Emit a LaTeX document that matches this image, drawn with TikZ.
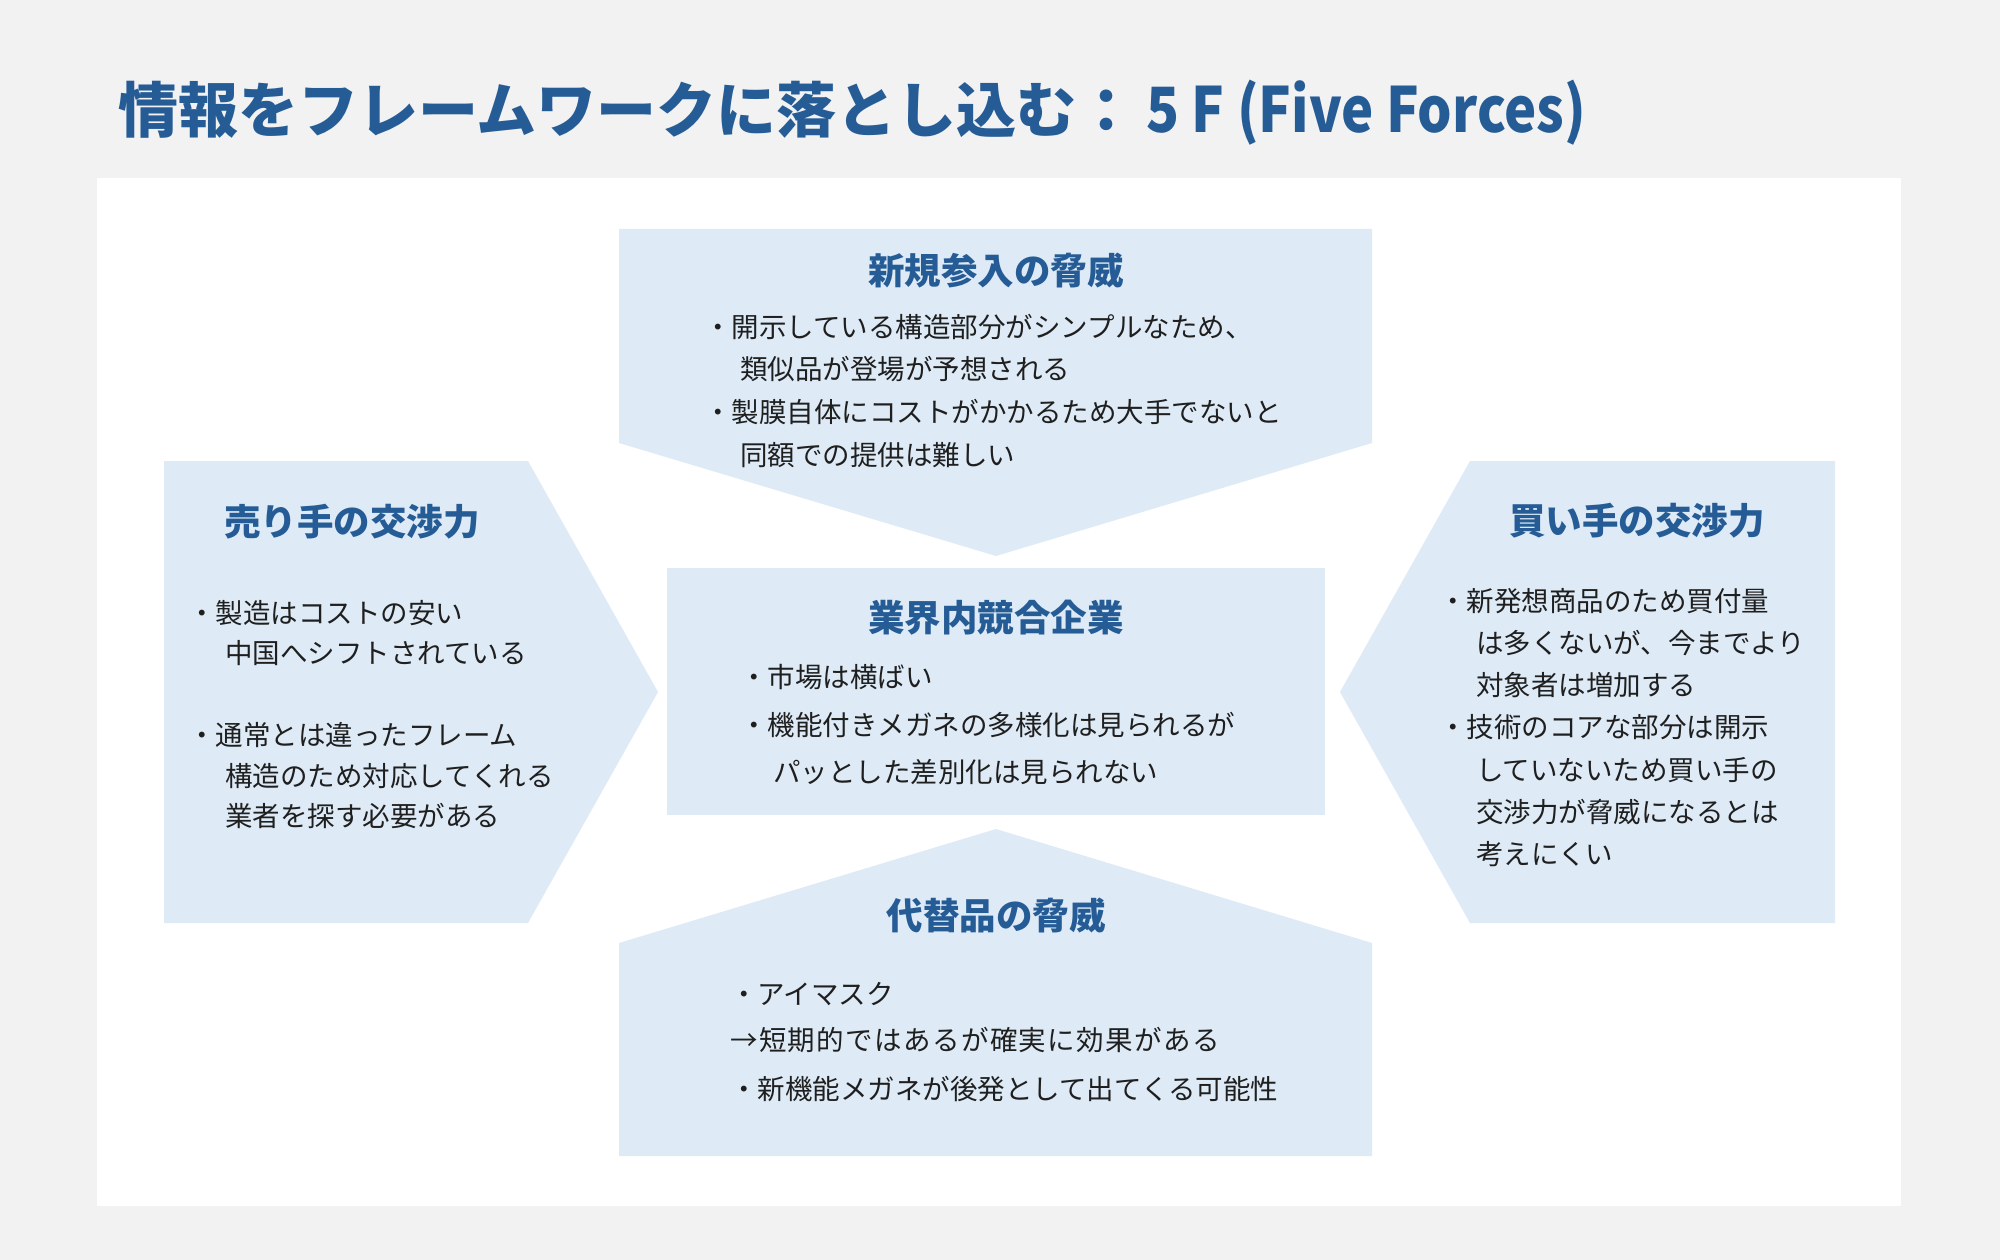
\documentclass[tikz,border=0pt]{standalone}
\usepackage{graphicx}
\usepackage{fontspec}
\setmainfont{Noto Sans CJK JP}
\definecolor{bggray}{HTML}{F2F2F2}
\definecolor{boxblue}{HTML}{DEEBF7}
\definecolor{headblue}{HTML}{265C96}
\definecolor{bodytext}{HTML}{1F1F1F}
\tikzset{
  panel/.style={fill=white, draw=none},
  forcebox/.style={fill=boxblue, draw=none},
  heading/.style={anchor=base, inner sep=0pt, text=headblue, font=\fontsize{36.5}{44}\selectfont\bfseries},
  bodyline/.style={anchor=base west, inner sep=0pt, text=bodytext, font=\fontsize{27.5}{32}\selectfont},
  titletext/.style={anchor=base west, inner sep=0pt, text=headblue, font=\fontsize{60}{70}\selectfont\bfseries}
}
\begin{document}
\begin{tikzpicture}[x=1pt, y=-1pt]
\useasboundingbox (0,0) rectangle (2000,1260);
\fill[bggray] (0,0) rectangle (2000,1260);
% title
\node[titletext] (title) at (118,133) {情報をフレームワークに落とし込む：\,\scalebox{0.905}[1.04]{5 F (Five Forces)}};
% white panel
\fill[panel] (97,178) rectangle (1901,1206);
% shapes
\fill[forcebox] (619,229) -- (1372,229) -- (1372,443) -- (996,556) -- (619,443) -- cycle;
\fill[forcebox] (667,568) rectangle (1325,815);
\fill[forcebox] (619,943) -- (996,829) -- (1372,943) -- (1372,1156) -- (619,1156) -- cycle;
\fill[forcebox] (164,461) -- (528,461) -- (658,692) -- (528,923) -- (164,923) -- cycle;
\fill[forcebox] (1470,461) -- (1835,461) -- (1835,923) -- (1470,923) -- (1340,692) -- cycle;
% headings
\node[heading] (hTop) at (996,284) {新規参入の脅威};
\node[heading] (hLeft) at (352,535) {売り手の交渉力};
\node[heading] (hCenter) at (996,631) {業界内競合企業};
\node[heading] (hRight) at (1637,534) {買い手の交渉力};
\node[heading] (hBottom) at (996,929) {代替品の脅威};
% top box text
\node[bodyline] (t1) at (704,337) {・開示している構造部分がシンプルなため、};
\node[bodyline] (t2) at (740,379) {類似品が登場が予想される};
\node[bodyline] (t3) at (704,422) {・製膜自体にコストがかかるため大手でないと};
\node[bodyline] (t4) at (740,465) {同額での提供は難しい};
% left box text
\node[bodyline] (l1) at (188,623) {・製造はコストの安い};
\node[bodyline] (l2) at (225,663) {中国へシフトされている};
\node[bodyline] (l3) at (188,745) {・通常とは違ったフレーム};
\node[bodyline] (l4) at (225,786) {構造のため対応してくれる};
\node[bodyline] (l5) at (225,826) {業者を探す必要がある};
% center box text
\node[bodyline] (c1) at (740,687) {・市場は横ばい};
\node[bodyline] (c2) at (740,735) {・機能付きメガネの多様化は見られるが};
\node[bodyline] (c3) at (773,782) {パッとした差別化は見られない};
% right box text
\node[bodyline] (r1) at (1439,611) {・新発想商品のため買付量};
\node[bodyline] (r2) at (1476,653) {は多くないが、今までより};
\node[bodyline] (r3) at (1476,695) {対象者は増加する};
\node[bodyline] (r4) at (1439,737) {・技術のコアな部分は開示};
\node[bodyline] (r5) at (1476,780) {していないため買い手の};
\node[bodyline] (r6) at (1476,822) {交渉力が脅威になるとは};
\node[bodyline] (r7) at (1476,864) {考えにくい};
% bottom box text
\node[bodyline] (b1) at (730,1004) {・アイマスク};
\node[bodyline] (b2) at (730,1050) {\addfontfeature{LetterSpace=5}→短期的ではあるが確実に効果がある};
\node[bodyline] (b3) at (730,1099) {・新機能メガネが後発として出てくる可能性};
\end{tikzpicture}
\end{document}
